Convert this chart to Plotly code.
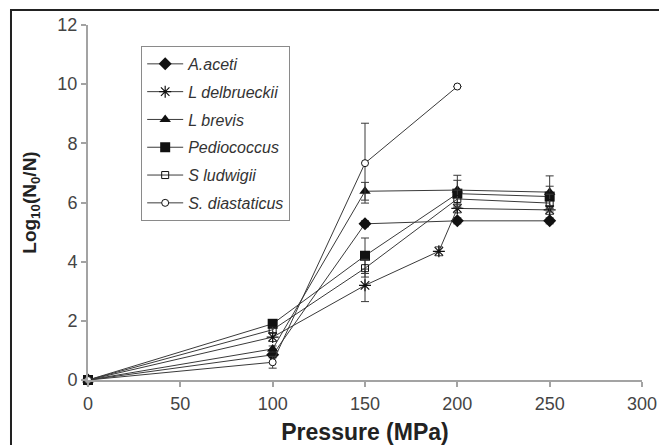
import plotly.graph_objects as go

# ---- data ----
p_std = [0, 100, 150, 200, 250]
p_delb = [0, 100, 150, 190, 200, 250]
p_diast = [0, 100, 150, 200]

aceti = [0, 0.85, 5.28, 5.38, 5.38]
aceti_err = [0, 0.1, 0.1, 0.1, 0.1]
delbrueckii = [0, 1.45, 3.2, 4.35, 5.8, 5.75]
delbrueckii_err = [0, 0.15, 0.55, 0.15, 0.15, 0.15]
brevis = [0, 1.05, 6.38, 6.42, 6.35]
brevis_err = [0, 0.1, 0.3, 0.5, 0.55]
pedio = [0, 1.9, 4.2, 6.3, 6.2]
pedio_err = [0, 0.1, 0.6, 0.45, 0.35]
ludwigii = [0, 1.7, 3.78, 6.12, 5.98]
ludwigii_err = [0, 0.1, 0.3, 0.3, 0.3]
diast = [0, 0.6, 7.33, 9.92]
diast_err = [0, 0.2, 1.35, 0]

names = ["A.aceti", "L delbrueckii", "L brevis", "Pediococcus", "S ludwigii", "S. diastaticus"]

x_ticks = [0, 50, 100, 150, 200, 250, 300]
y_ticks = [0, 2, 4, 6, 8, 10, 12]

FONT = "Liberation Sans, Arial, sans-serif"
LINE = "#3a3a3a"
MK = "#111111"
AX = "#a3a3a3"

series = [
    (p_std, aceti, aceti_err, dict(symbol="diamond", size=10, color=MK)),
    (p_delb, delbrueckii, delbrueckii_err,
     dict(symbol="asterisk-open", size=10, color=MK, line=dict(color=MK, width=1.2))),
    (p_std, brevis, brevis_err, dict(symbol="triangle-up", size=10, color=MK)),
    (p_std, pedio, pedio_err, dict(symbol="square", size=10, color=MK)),
    (p_std, ludwigii, ludwigii_err,
     dict(symbol="square-open", size=7, color=MK, line=dict(color=MK, width=1))),
    (p_diast, diast, diast_err,
     dict(symbol="circle", size=7, color="white", line=dict(color=MK, width=1))),
]

fig = go.Figure()
for i, (xs, ys, es, mk) in enumerate(series):
    fig.add_trace(go.Scatter(
        x=xs, y=ys, name=names[i], mode="lines+markers",
        line=dict(color=LINE, width=1),
        marker=mk,
        error_y=dict(type="data", array=es, visible=True, color=LINE, thickness=1, width=4),
        legendgroup=f"g{i}",
        cliponaxis=False,
    ))

fig.update_layout(
    width=659, height=445,
    margin=dict(l=88, r=17, t=25, b=65, autoexpand=False),
    paper_bgcolor="white", plot_bgcolor="white",
    font=dict(family=FONT, color="#444444", size=18),
    showlegend=True,
    legend=dict(
        x=0.096, y=0.941, xanchor="left", yanchor="top",
        bordercolor="#8a8a8a", borderwidth=1, bgcolor="white",
        font=dict(family=FONT, size=16, color="#333333", style="italic"),
        tracegroupgap=4, itemwidth=36,
    ),
    xaxis=dict(
        range=[0, 300], tickvals=x_ticks, showgrid=False, zeroline=False,
        showline=True, linecolor=AX, linewidth=2, automargin=False,
        ticks="outside", ticklen=5, tickcolor=AX, tickwidth=1.5,
        tickfont=dict(size=18, color="#444444"),
        ticklabeloverflow="allow", ticklabelstandoff=1,
        title=dict(text="Pressure (MPa)", standoff=19,
                   font=dict(size=23, color="#222222", weight="bold")),
    ),
    yaxis=dict(
        range=[0, 12], tickvals=y_ticks, showgrid=False, zeroline=False,
        showline=True, linecolor=AX, linewidth=2, automargin=False,
        ticks="outside", ticklen=5, tickcolor=AX, tickwidth=1.5,
        tickfont=dict(size=18, color="#444444"),
        title=dict(text="Log<sub>10</sub>(N<sub>0</sub>/N)", standoff=16,
                   font=dict(size=19, color="#222222", weight="bold")),
    ),
    shapes=[dict(type="rect", xref="paper", yref="paper",
                 x0=-0.139, x1=1.3, y0=-0.3, y1=1.042,
                 line=dict(color="#222222", width=2), fillcolor="rgba(0,0,0,0)",
                 layer="below")],
)

fig.write_html("out.html")
